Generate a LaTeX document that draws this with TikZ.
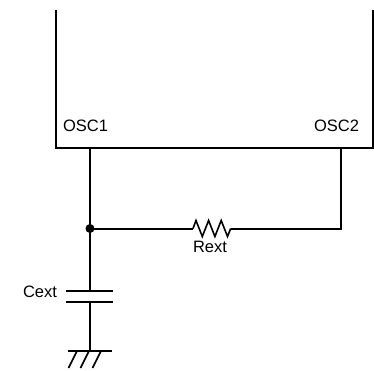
\documentclass[tikz,border=0pt]{standalone}
\usepackage{fontspec}
\setmainfont{Liberation Sans}
\begin{document}
\begin{tikzpicture}[x=1pt,y=-1pt,line width=2pt,
	lbl/.style={font=\fontsize{16.5}{18}\selectfont,inner sep=0pt}]
	\useasboundingbox (0,0) rectangle (374,371);
	% chip outline, open at the top
	\draw (56,10) -- (56,148) -- (372.5,148) -- (372.5,10);
	\node[lbl,anchor=base west] (osc1) at (62,132) {OSC1};
	\node[lbl,anchor=base east] (osc2) at (360,132) {OSC2};
	\coordinate (p1) at (90,148);
	\coordinate (p2) at (340.5,148);
	\coordinate (j) at (90,228.5);
	\coordinate (r1) at (193,228.5);
	\coordinate (r2) at (230.7,228.5);
	\coordinate (c1) at (90,291);
	\coordinate (c2) at (90,302);
	\coordinate (g) at (90,351);
	% wires
	\draw (p1) -- (j) -- (c1);
	\draw (j) -- (r1);
	\draw (r2) -- (r2 -| p2) -- (p2);
	\draw (c2) -- (g);
	\fill (j) circle (4.5);
	% Rext
	\draw[line width=1.6pt] (r1) -- ++(3,-8) -- ++(6.3,16) -- ++(6.3,-16) -- ++(6.3,16)
		-- ++(6.3,-16) -- ++(6.3,16) -- (r2);
	\node[lbl,anchor=base] (rext) at (210,252) {Rext};
	% Cext
	\draw ([xshift=-24pt]c1) -- ([xshift=23pt]c1);
	\draw ([xshift=-24pt]c2) -- ([xshift=23pt]c2);
	\node[lbl,anchor=base east] (cext) at (58,297) {Cext};
	% ground
	\draw ([xshift=-22pt]g) -- ([xshift=22pt]g);
	\foreach \dx in {-13,-1,11}
		\draw[line width=1.6pt] ([xshift=\dx pt]g) -- ++(-8.5,17);
\end{tikzpicture}
\end{document}
